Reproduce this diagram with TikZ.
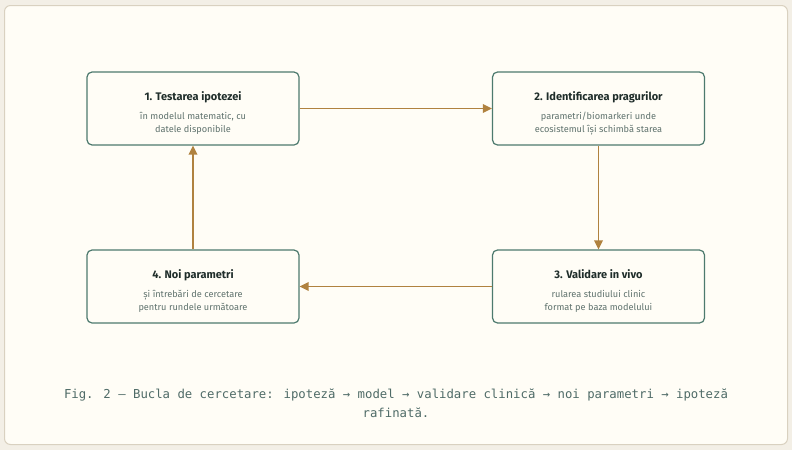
\documentclass[tikz,border=0pt]{standalone}
\usepackage{fontspec}
\setmainfont{Fira Sans}
\newfontfamily\capfont{DejaVu Sans Mono}
\usetikzlibrary{arrows.meta}
\definecolor{pagebg}{HTML}{F3EFE6}
\definecolor{cardbg}{HTML}{FFFDF6}
\definecolor{cardline}{HTML}{D9D1C0}
\definecolor{boxline}{HTML}{4D7A6E}
\definecolor{titlecol}{HTML}{1F2D2A}
\definecolor{subcol}{HTML}{5F726D}
\definecolor{arrowcol}{HTML}{B0823F}
\definecolor{capcol}{HTML}{4F6B67}
\tikzset{
  stepbox/.style={draw=boxline, line width=1.2pt, fill=cardbg, rounded corners=5pt,
    minimum width=212pt, minimum height=73pt, inner sep=0pt},
  boxlabel/.style={align=center, inner sep=0pt},
  flow/.style={draw=arrowcol, line width=1.8pt, -{Triangle[length=9pt,width=8.5pt]}},
}
\newcommand{\boxtitle}[1]{{\fontsize{11}{13}\selectfont\bfseries\color{titlecol}#1}}
\newcommand{\boxsub}[1]{{\fontsize{9.2}{13}\selectfont\color{subcol}#1}}
\newcommand{\boxtext}[3]{\boxtitle{#1}\\[7pt]\boxsub{#2}\\[1pt]\boxsub{#3}}
\begin{document}
\begin{tikzpicture}[x=1pt,y=-1pt]
\fill[pagebg] (0,0) rectangle (792,450);
\useasboundingbox (0,0) rectangle (792,450);
\draw[cardline, fill=cardbg, line width=1pt, rounded corners=6pt] (4.5,5.5) rectangle (787.5,444.5);
\node[stepbox] (b1) at (193,108.5) {};
\node[stepbox] (b2) at (598.5,108.5) {};
\node[stepbox] (b3) at (598.5,286.5) {};
\node[stepbox] (b4) at (193,286.5) {};
\node[boxlabel] (t1) at ([yshift=-4.5pt]b1.center) {\boxtext{1. Testarea ipotezei}{în modelul matematic, cu}{datele disponibile}};
\node[boxlabel] (t2) at ([yshift=-4.5pt]b2.center) {\boxtext{2. Identificarea pragurilor}{parametri/biomarkeri unde}{ecosistemul își schimbă starea}};
\node[boxlabel] (t3) at ([yshift=-4.5pt]b3.center) {\boxtext{3. Validare in vivo}{rularea studiului clinic}{format pe baza modelului}};
\node[boxlabel] (t4) at ([yshift=-4.5pt]b4.center) {\boxtext{4. Noi parametri}{și întrebări de cercetare}{pentru rundele următoare}};
\draw[flow] (b1.east) -- (b2.west);
\draw[flow] (b2.south) -- (b3.north);
\draw[flow] (b3.west) -- (b4.east);
\draw[flow] (b4.north) -- (b1.south);
\node[text=capcol, align=center, font=\capfont\fontsize{12.3}{19}\selectfont] (cap) at (396,403.5)
  {Fig. 2 — Bucla de cercetare: ipoteză → model → validare clinică → noi parametri → ipoteză\\rafinată.};
\end{tikzpicture}
\end{document}
